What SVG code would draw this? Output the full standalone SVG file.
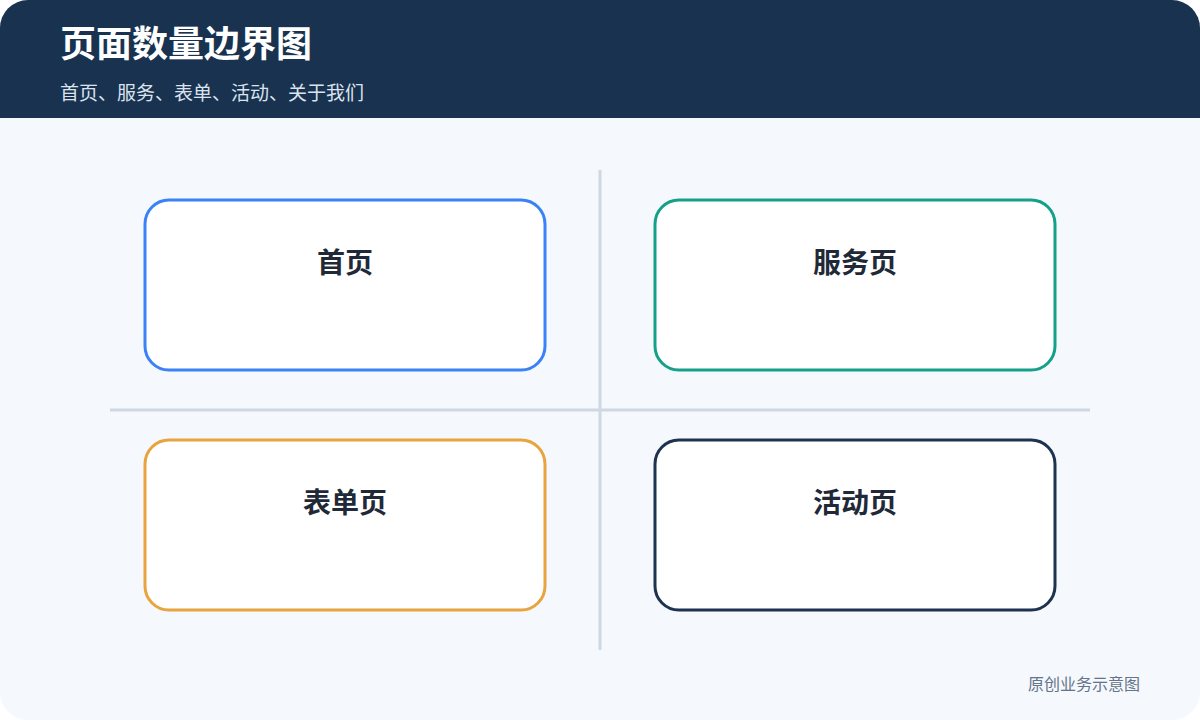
<svg xmlns="http://www.w3.org/2000/svg" width="1200" height="720" viewBox="0 0 1200 720">
<style>
.node rect{fill:#ffffff;stroke-width:3}
.label{font-family:"Noto Sans CJK SC","Noto Sans",sans-serif;font-size:28px;font-weight:700;fill:#1f2937;text-anchor:middle}
.grid line{stroke:#cfd7e2;stroke-width:3}
</style>
<defs>
<clipPath id="card"><rect x="0" y="0" width="1200" height="720" rx="28"/></clipPath>
</defs>
<rect width="1200" height="720" fill="#ffffff"/>
<g clip-path="url(#card)">
<rect x="0" y="0" width="1200" height="720" fill="#f5f8fc"/>
<rect x="0" y="0" width="1200" height="118" fill="#183250"/>
</g>
<text x="60" y="57" font-family="'Noto Sans CJK SC','Noto Sans',sans-serif" font-size="36" font-weight="700" fill="#ffffff">页面数量边界图</text>
<text x="60" y="100" font-family="'Noto Sans CJK SC','Noto Sans',sans-serif" font-size="19" fill="#dbe4ee">首页、服务、表单、活动、关于我们</text>
<g id="connectors" class="grid">
<line x1="600" y1="170" x2="600" y2="650"/>
<line x1="110" y1="410" x2="1090" y2="410"/>
</g>
<g id="node-home" class="node">
<rect x="145" y="200" width="400" height="170" rx="24" stroke="#3b82f6"/>
<text class="label" x="345" y="273">首页</text>
</g>
<g id="node-service" class="node">
<rect x="655" y="200" width="400" height="170" rx="24" stroke="#16a08a"/>
<text class="label" x="855" y="273">服务页</text>
</g>
<g id="node-form" class="node">
<rect x="145" y="440" width="400" height="170" rx="24" stroke="#e8a43e"/>
<text class="label" x="345" y="513">表单页</text>
</g>
<g id="node-activity" class="node">
<rect x="655" y="440" width="400" height="170" rx="24" stroke="#1e3350"/>
<text class="label" x="855" y="513">活动页</text>
</g>
<text x="1140" y="690" font-family="'Noto Sans CJK SC','Noto Sans',sans-serif" font-size="16" fill="#64748b" text-anchor="end">原创业务示意图</text>
</svg>
